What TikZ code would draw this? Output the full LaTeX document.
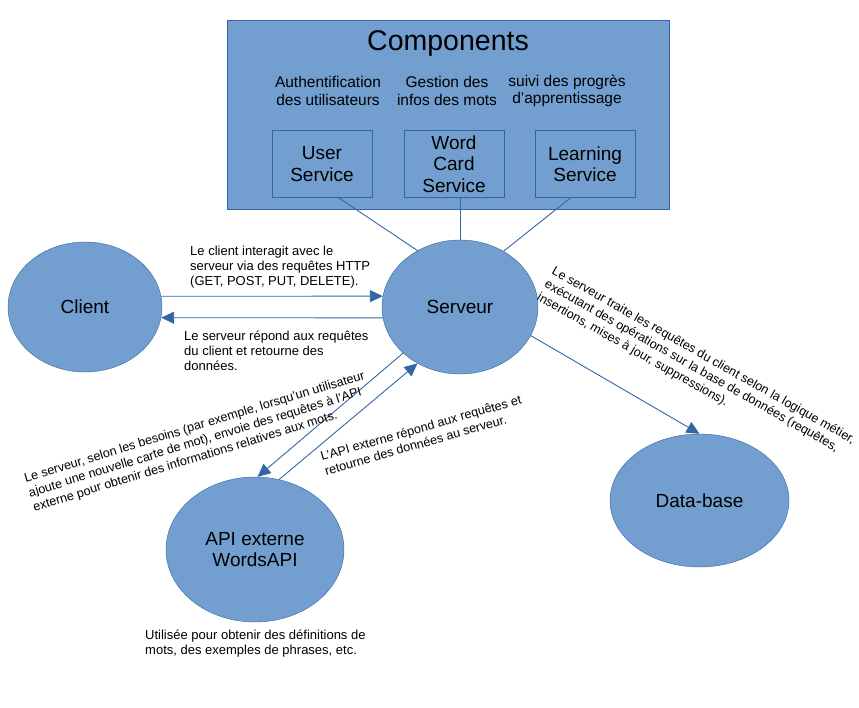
\documentclass[tikz,border=0pt]{standalone}
\usepackage{fontspec}
\setmainfont{Liberation Sans}
\usetikzlibrary{shapes.geometric, arrows.meta}

\definecolor{blobfill}{HTML}{729FCF}
\definecolor{blobline}{HTML}{3465A4}

\begin{document}
\begin{tikzpicture}[
    x=1pt, y=-1pt,
    >={Triangle[length=13pt, width=12pt]},
    compbox/.style={draw=blobline, fill=blobfill, rectangle, minimum width=442pt, minimum height=189pt, inner sep=0pt},
    svcnode/.style={draw=blobline, fill=blobfill, rectangle, minimum width=100pt, minimum height=67pt, inner sep=0pt, font=\fontsize{19}{21.5}\selectfont, align=center},
    blobnode/.style={draw=blobline, fill=blobfill, ellipse, inner sep=0pt, font=\fontsize{19}{21.5}\selectfont, align=center},
    headlabel/.style={font=\fontsize{15.5}{17.7}\selectfont, inner sep=0pt, align=center},
    note/.style={font=\fontsize{13}{15}\selectfont, inner sep=0pt, align=left},
    slantnote/.style={font=\fontsize{12.6}{15}\selectfont, inner sep=0pt, align=left},
    flow/.style={->, draw=blobline, line width=0.9pt},
    link/.style={draw=blobline, line width=0.9pt}
]
    \useasboundingbox (0,0) rectangle (859,708);

    % components block
    \node[compbox] (Comp) at (448.5,114.5) {};
    \node[font=\fontsize{28.5}{30}\selectfont, inner sep=0pt, anchor=base] (CompTitle) at (448,51) {Components};
    \node[headlabel] (HeadUser)  at (328,91) {Authentification\\des utilisateurs};
    \node[headlabel] (HeadWord)  at (447,91) {Gestion des\\infos des mots};
    \node[headlabel] (HeadLearn) at (567,91) {suivi des progrès\\d’apprentissage};
    \node[svcnode]   (UserSvc)   at (322,164) {User\\Service};
    \node[svcnode]   (WordSvc)   at (454,164) {Word\\Card\\Service};
    \node[svcnode]   (LearnSvc)  at (585,164) {Learning\\Service};

    % main parts
    \node[blobnode, minimum width=154pt, minimum height=130pt] (Client)   at (85,307)      {Client};
    \node[blobnode, minimum width=156pt, minimum height=134pt] (Serveur)  at (460,307)     {Serveur};
    \node[blobnode, minimum width=178pt, minimum height=145pt] (ApiExt)   at (255,549.5)   {API externe\\WordsAPI};
    \node[blobnode, minimum width=179pt, minimum height=133pt] (DataBase) at (699.5,500.5) {Data-base};

    \draw[link] (UserSvc.-64) -- (Serveur.127);
    \draw[link] (Serveur.north |- WordSvc.south) -- (Serveur.north);
    \draw[link] (LearnSvc.247) -- (Serveur.52);

    \draw[flow] (Client.8) -- (Serveur.172);
    \draw[flow] (Serveur.188) -- (Client.-8);
    \draw[flow] (Serveur.219) -- (ApiExt.88);
    \draw[flow] (ApiExt.71) -- (Serveur.233);
    \draw[flow] (Serveur.-22) -- (DataBase.north);

    \node[note, anchor=west] (LblReq) at (190,267) {Le client interagit avec le\\serveur via des requêtes HTTP\\(GET, POST, PUT, DELETE).};
    \node[note, anchor=west] (LblRep) at (184,351) {Le serveur répond aux requêtes\\du client et retourne des\\données.};
    \node[slantnote, rotate=17] (LblCall) at (199,442) {Le serveur, selon les besoins (par exemple, lorsqu'un utilisateur\\ajoute une nouvelle carte de mot), envoie des requêtes à l'API\\externe pour obtenir des informations relatives aux mots.};
    \node[slantnote, rotate=16] (LblApiRep) at (423,435) {L'API externe répond aux requêtes et\\retourne des données au serveur.};
    \node[slantnote, rotate=-29.5] (LblDb) at (696,369) {Le serveur traite les requêtes du client selon la logique métier,\\exécutant des opérations sur la base de données (requêtes,\\insertions, mises à jour, suppressions).};
    \node[note, anchor=west] (LblApi) at (145,644) {Utilisée pour obtenir des définitions de\\mots, des exemples de phrases, etc.};

\end{tikzpicture}
\end{document}
